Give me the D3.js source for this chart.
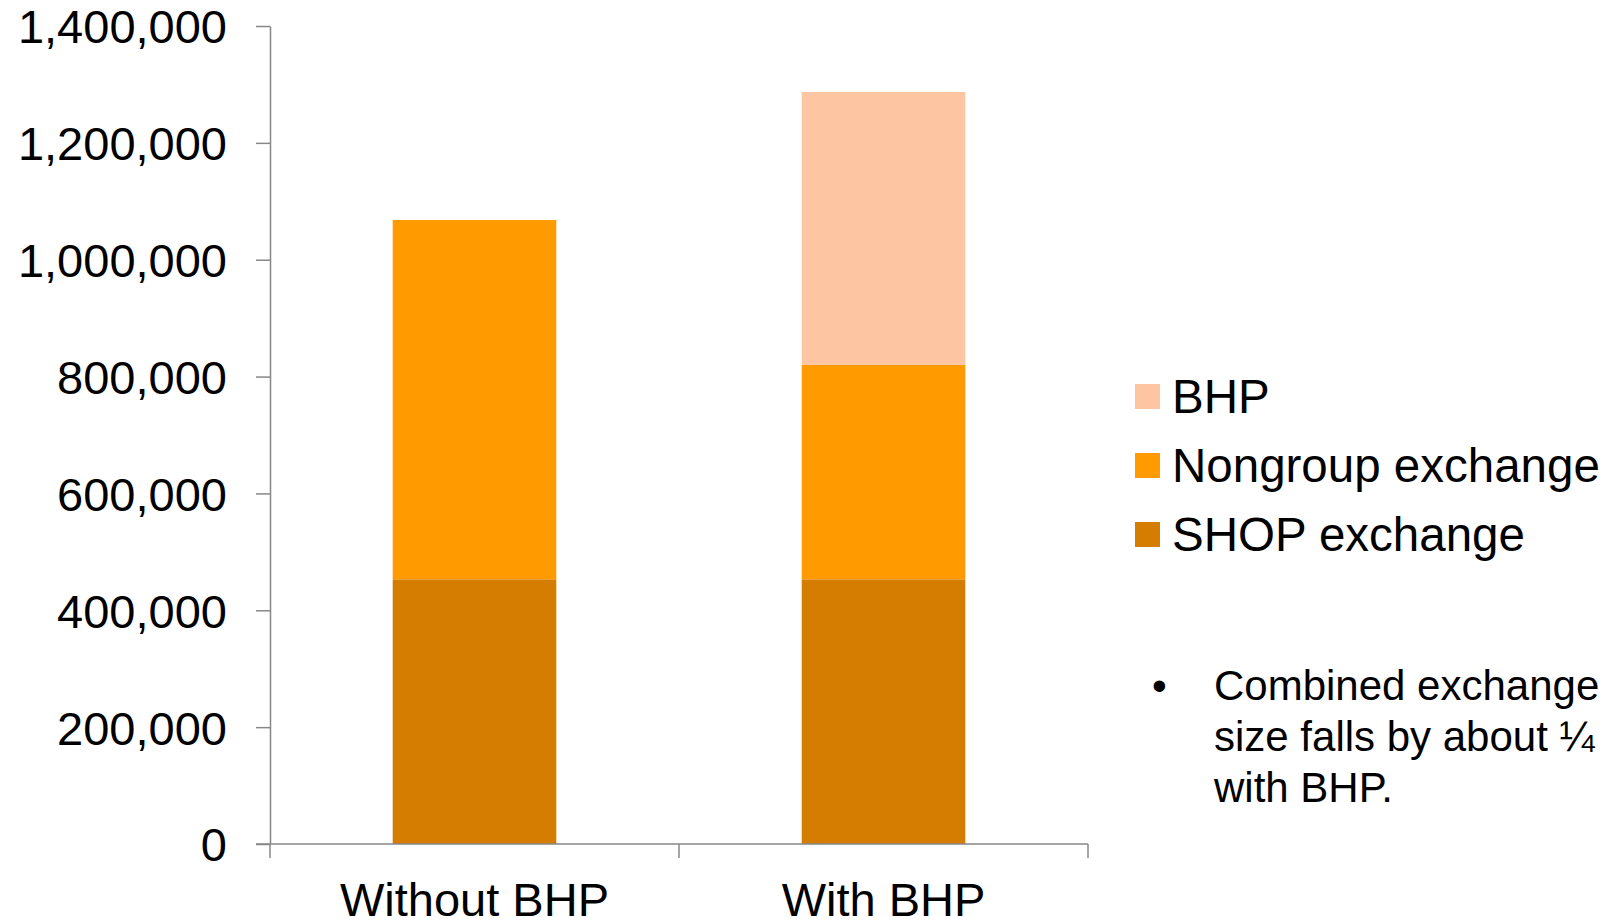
<!DOCTYPE html>
<html>
<head>
<meta charset="utf-8">
<script src="https://cdn.jsdelivr.net/npm/d3@7"></script>
<style>
  html, body { margin: 0; padding: 0; background: #ffffff; }
  svg { display: block; font-family: "Liberation Sans", Arial, sans-serif; }
</style>
</head>
<body>
<svg id="chart" width="1614" height="920"></svg>
<script>
// Exchange size by scenario, stacked by component
const categories = ["Without BHP", "With BHP"];
const seriesKeys = ["SHOP exchange", "Nongroup exchange", "BHP"];
const shopValues = [453000, 453000];
const nongroupValues = [615000, 367000];
const bhpValues = [0, 467000];
const yTicks = [0, 200000, 400000, 600000, 800000, 1000000, 1200000, 1400000];
const legendOrder = ["BHP", "Nongroup exchange", "SHOP exchange"];
const noteLines = ["Combined exchange", "size falls by about \u00BC", "with BHP."];

const colors = {
  "SHOP exchange": "#d47d00",
  "Nongroup exchange": "#ff9a00",
  "BHP": "#fdc5a1"
};

const rows = categories.map((c, i) => ({
  category: c,
  "SHOP exchange": shopValues[i],
  "Nongroup exchange": nongroupValues[i],
  "BHP": bhpValues[i]
}));

const svg = d3.select("#chart");
const axisColor = "#878787";

const x = d3.scaleBand()
  .domain(categories)
  .range([270, 1088])
  .paddingInner(0.6)
  .paddingOuter(0.3);

const y = d3.scaleLinear()
  .domain([0, 1400000])
  .range([844, 26]);

const stacked = d3.stack().keys(seriesKeys)(rows);

// Stacked bars
svg.append("g")
  .selectAll("g")
  .data(stacked)
  .join("g")
  .attr("fill", d => colors[d.key])
  .selectAll("rect")
  .data(d => d.filter(s => s[1] - s[0] > 0))
  .join("rect")
  .attr("x", d => x(d.data.category))
  .attr("width", x.bandwidth())
  .attr("y", d => y(d[1]))
  .attr("height", d => y(d[0]) - y(d[1]));

// Y axis
const yAxis = svg.append("g")
  .attr("transform", "translate(270,0)")
  .call(d3.axisLeft(y)
    .tickValues(yTicks)
    .tickFormat(d3.format(","))
    .tickSize(14)
    .tickSizeOuter(0)
    .tickPadding(29));
yAxis.select(".domain").attr("stroke", axisColor).attr("stroke-width", 1.5);
yAxis.selectAll(".tick line").attr("stroke", axisColor).attr("stroke-width", 1.5);
yAxis.selectAll(".tick text")
  .attr("fill", "#000")
  .attr("font-size", 47)
  .attr("font-family", "Liberation Sans, Arial, sans-serif")
  .attr("dy", "0.36em");

// X axis: baseline plus ticks at category boundaries
const xAxis = svg.append("g");
xAxis.append("line")
  .attr("x1", 256).attr("x2", x.range()[1])
  .attr("y1", y(0)).attr("y2", y(0))
  .attr("stroke", axisColor).attr("stroke-width", 1.5);
const boundaries = d3.range(categories.length + 1)
  .map(i => x.range()[0] + i * x.step());
xAxis.selectAll("line.tick")
  .data(boundaries)
  .join("line")
  .attr("class", "tick")
  .attr("x1", d => d).attr("x2", d => d)
  .attr("y1", y(0)).attr("y2", y(0) + 14)
  .attr("stroke", axisColor).attr("stroke-width", 1.5);
xAxis.selectAll("text")
  .data(categories)
  .join("text")
  .attr("x", d => x(d) + x.bandwidth() / 2)
  .attr("y", 916)
  .attr("text-anchor", "middle")
  .attr("font-size", 47)
  .attr("fill", "#000")
  .text(d => d);

// Legend
const legend = svg.append("g")
  .selectAll("g")
  .data(legendOrder)
  .join("g")
  .attr("transform", (d, i) => `translate(1135,${384 + i * 69})`);
legend.append("rect")
  .attr("width", 25).attr("height", 25)
  .attr("fill", d => colors[d]);
legend.append("text")
  .attr("x", 37)
  .attr("y", 28.5)
  .attr("font-size", 47.5)
  .attr("fill", "#000")
  .text(d => d);

// Bulleted note
const note = svg.append("g");
note.append("text")
  .attr("x", 1152)
  .attr("y", 700)
  .attr("font-size", 42)
  .attr("fill", "#000")
  .text("\u2022");
note.selectAll("text.line")
  .data(noteLines)
  .join("text")
  .attr("class", "line")
  .attr("x", 1214)
  .attr("y", (d, i) => 700 + i * 51)
  .attr("font-size", 42)
  .attr("fill", "#000")
  .text(d => d);
</script>
</body>
</html>
